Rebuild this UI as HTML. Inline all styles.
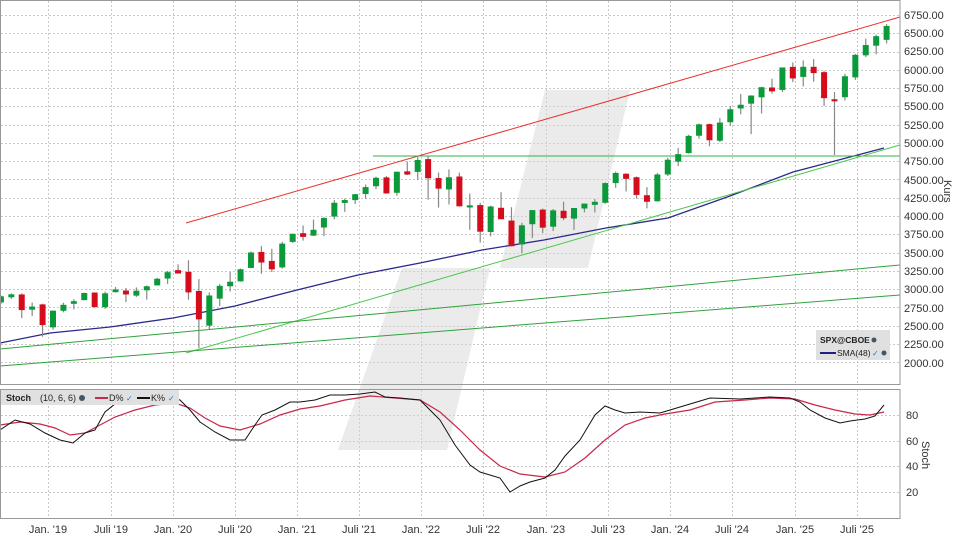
<!DOCTYPE html>
<html><head><meta charset="utf-8"><style>
html,body{margin:0;padding:0;background:#fff;width:960px;height:540px;overflow:hidden}
svg{display:block;font-family:"Liberation Sans",sans-serif}
</style></head><body>
<svg id="s" width="960" height="540" viewBox="0 0 960 540" xmlns="http://www.w3.org/2000/svg">
<rect width="960" height="540" fill="#fff"/>
<g id="grid" stroke="#c8c8c8" stroke-dasharray="2,2" stroke-width="1"></g>
<g opacity="0.5" fill="#d8d8d8">
<polygon points="545,90 630,90 588,268 500,268"/>
<polygon points="402,268 490,268 447,450 338,450"/>
</g>
<g id="lines" fill="none"></g>
<g id="candles"></g>
<rect x="0.5" y="0.5" width="899.5" height="384" fill="none" stroke="#999"/>
<rect x="0.5" y="389.5" width="899.5" height="129" fill="none" stroke="#999"/>
<g font-size="11" fill="#333">
<text x="904" y="19">6750.00</text><text x="904" y="37">6500.00</text><text x="904" y="55">6250.00</text><text x="904" y="74">6000.00</text><text x="904" y="92">5750.00</text><text x="904" y="110">5500.00</text><text x="904" y="129">5250.00</text><text x="904" y="147">5000.00</text><text x="904" y="165">4750.00</text><text x="904" y="184">4500.00</text><text x="904" y="202">4250.00</text><text x="904" y="220">4000.00</text><text x="904" y="238">3750.00</text><text x="904" y="257">3500.00</text><text x="904" y="275">3250.00</text><text x="904" y="293">3000.00</text><text x="904" y="312">2750.00</text><text x="904" y="330">2500.00</text><text x="904" y="348">2250.00</text><text x="904" y="367">2000.00</text>
<text x="906" y="419">80</text><text x="906" y="445">60</text><text x="906" y="470">40</text><text x="906" y="496">20</text>
<text transform="translate(944,180) rotate(90)" font-size="11">Kurs</text>
<text transform="translate(922,441) rotate(90)" font-size="11">Stoch</text>
</g>
<g font-size="11" fill="#333" text-anchor="middle">
<text x="48" y="533">Jan. '19</text><text x="111" y="533">Juli '19</text><text x="173" y="533">Jan. '20</text><text x="235" y="533">Juli '20</text><text x="297" y="533">Jan. '21</text><text x="359" y="533">Juli '21</text><text x="421" y="533">Jan. '22</text><text x="483" y="533">Juli '22</text><text x="546" y="533">Jan. '23</text><text x="608" y="533">Juli '23</text><text x="670" y="533">Jan. '24</text><text x="732" y="533">Juli '24</text><text x="795" y="533">Jan. '25</text><text x="857" y="533">Juli '25</text>
</g>
<rect x="816" y="330" width="74" height="30" fill="#e0e0e0"/>
<text x="820" y="343" font-size="8.5" font-weight="bold" fill="#222">SPX@CBOE</text>
<circle cx="874" cy="340" r="2.5" fill="#456"/>
<line x1="820" y1="353" x2="836" y2="353" stroke="#1a237e" stroke-width="2"/>
<text x="837" y="356" font-size="8.5" fill="#222">SMA(48)</text>
<text x="872" y="356" font-size="8" fill="#27c">✓</text><circle cx="884" cy="353" r="2.5" fill="#456"/>
<rect x="1" y="390" width="178" height="15" fill="#e0e0e0"/>
<text x="6" y="401" font-size="9" font-weight="bold" fill="#222">Stoch</text>
<text x="40" y="401" font-size="9" fill="#222">(10, 6, 6)</text><circle cx="82" cy="398" r="3" fill="#456"/>
<line x1="95" y1="398" x2="108" y2="398" stroke="#c8284a" stroke-width="2"/><text x="109" y="401" font-size="9" fill="#222">D%</text><text x="126" y="401" font-size="8" fill="#27c">✓</text>
<line x1="137" y1="398" x2="150" y2="398" stroke="#111" stroke-width="2"/><text x="151" y="401" font-size="9" fill="#222">K%</text><text x="168" y="401" font-size="8" fill="#27c">✓</text>
</svg>
<script>
var NS="http://www.w3.org/2000/svg";
function el(p,t,a){var e=document.createElementNS(NS,t);for(var k in a)e.setAttribute(k,a[k]);p.appendChild(e);return e;}
var grid=document.getElementById('grid'),lines=document.getElementById('lines'),cg=document.getElementById('candles');
function Y(v){return 15+(6750-v)/250*18.27;}
var gx=[48,111,173,235,297,359,421,483,546,608,670,732,795,857];
gx.forEach(function(x){el(grid,'line',{x1:x+.5,y1:1,x2:x+.5,y2:384});el(grid,'line',{x1:x+.5,y1:390,x2:x+.5,y2:518});});
for(var v=2000;v<=6750;v+=250){var y=Math.round(Y(v))+.5;el(grid,'line',{x1:1,y1:y,x2:900,y2:y});}
[415,441,466,492].forEach(function(y){el(grid,'line',{x1:1,y1:y+.5,x2:900,y2:y+.5});});
var d=[[2816,2916,2796,2901],[2901,2940,2864,2914],[2926,2940,2603,2712],[2718,2815,2631,2760],[2790,2800,2347,2507],
[2476,2708,2444,2704],[2703,2813,2681,2784],[2798,2860,2722,2834],[2848,2950,2848,2946],[2952,2955,2751,2752],[2751,2965,2729,2942],[2971,3028,2953,2980],[2980,3014,2822,2926],[2910,3022,2892,2977],[2983,3050,2855,3038],[3050,3155,3050,3141],[3144,3248,3070,3231],
[3245,3338,3214,3226],[3235,3394,2855,2954],[2974,3136,2192,2585],[2499,2954,2448,2912],[2869,3068,2767,3044],[3038,3233,2966,3100],[3105,3280,3101,3271],[3289,3515,3284,3500],[3508,3588,3210,3363],[3385,3550,3234,3270],[3296,3646,3280,3622],[3645,3760,3633,3756],
[3764,3870,3663,3714],[3731,3950,3725,3811],[3842,3983,3723,3973],[3992,4219,3955,4181],[4192,4238,4056,4204],[4217,4302,4164,4298],[4300,4430,4234,4395],[4407,4537,4367,4523],[4528,4546,4305,4308],[4317,4608,4279,4605],[4610,4744,4560,4567],[4603,4818,4495,4766],
[4778,4819,4223,4516],[4519,4595,4115,4374],[4363,4637,4157,4530],[4540,4593,4129,4132],[4130,4307,3811,4132],[4149,4178,3637,3785],[3781,4140,3722,4130],[4112,4325,3955,3955],[3937,4120,3584,3586],[3610,3906,3492,3872],[3887,4080,3699,4080],[4087,4101,3765,3840],
[3853,4095,3794,4077],[4071,4195,3943,3970],[3964,4110,3809,4109],[4102,4170,4049,4169],[4166,4231,4048,4180],[4181,4458,4166,4450],[4450,4607,4385,4589],[4578,4584,4335,4508],[4530,4541,4238,4288],[4284,4394,4104,4194],[4201,4587,4197,4568],[4568,4794,4547,4770],
[4743,4932,4682,4846],[4861,5111,4853,5096],[5098,5265,5057,5254],[5257,5264,4954,5036],[5029,5342,5012,5278],[5283,5505,5234,5460],[5471,5670,5391,5522],[5537,5651,5120,5648],[5623,5768,5402,5762],[5758,5878,5675,5705],[5724,6025,5696,6032],[6040,6100,5832,5882],
[5903,6128,5773,6041],[6041,6147,5837,5955],[5968,5987,5505,5612],[5597,5696,4835,5569],[5625,5944,5579,5912],[5897,6216,5862,6205],[6198,6427,6174,6339],[6330,6481,6212,6460],[6410,6625,6360,6600]];
d.forEach(function(c,i){var x=48+(i-5)*10.42+5;var up=c[3]>=c[0];
el(cg,'line',{x1:x,y1:Y(c[1]),x2:x,y2:Y(c[2]),stroke:'#888','stroke-width':1.2});
var t=Y(Math.max(c[0],c[3])),b=Y(Math.min(c[0],c[3]));if(b-t<2){t-=1;b+=1;}
el(cg,'rect',{x:x-3,y:t,width:6,height:b-t,fill:up?'#0a9a3a':'#d40c1c'});});
function pl(pts,col,w){el(lines,'polyline',{points:pts,stroke:col,'stroke-width':w||1,fill:'none'});}
pl("0,343 50,333 110,327 173,318 235,306 297,290 358,275 420,263 482,250 544,240 606,228 668,218 730,196 793,172 850,157 884,148","#2a2a8a",1.3);
pl("186,223 900,17","#e8322e");
pl("373,156 900,156","#33b040");
pl("186,353 900,145","#4cc84c");
pl("0,349 900,265","#2ea23a");
pl("0,366 900,295","#2ea23a");
pl("0,425 20,422 40,424 55,428 70,435 85,433 100,425 115,417 135,410 155,405 175,403 190,408 205,418 220,426 240,430 260,424 280,415 300,409 320,406 345,400 370,396 395,398 420,400 440,412 460,430 480,450 500,466 520,474 545,477 565,472 585,458 605,440 625,425 645,418 665,414 690,410 715,402 745,400 770,398 795,399 815,405 835,410 855,414 870,415 884,412","#c8284a",1.2);
pl("0,430 15,420 30,424 45,433 60,440 73,443 85,433 95,430 105,412 115,404 135,400 150,400 165,397 180,400 190,410 200,422 215,432 230,440 245,440 255,425 262,415 275,410 290,402 300,402 315,400 330,395 345,395 360,394 375,392 385,397 400,398 420,400 430,410 440,420 455,445 470,465 480,472 500,478 510,492 520,486 530,482 545,478 555,470 565,456 580,440 595,415 605,406 615,410 625,413 640,412 660,413 670,410 690,404 710,398 740,399 770,397 790,398 800,402 810,410 825,418 840,423 850,421 865,419 875,416 884,405","#111",1);
</script>
</body></html>
